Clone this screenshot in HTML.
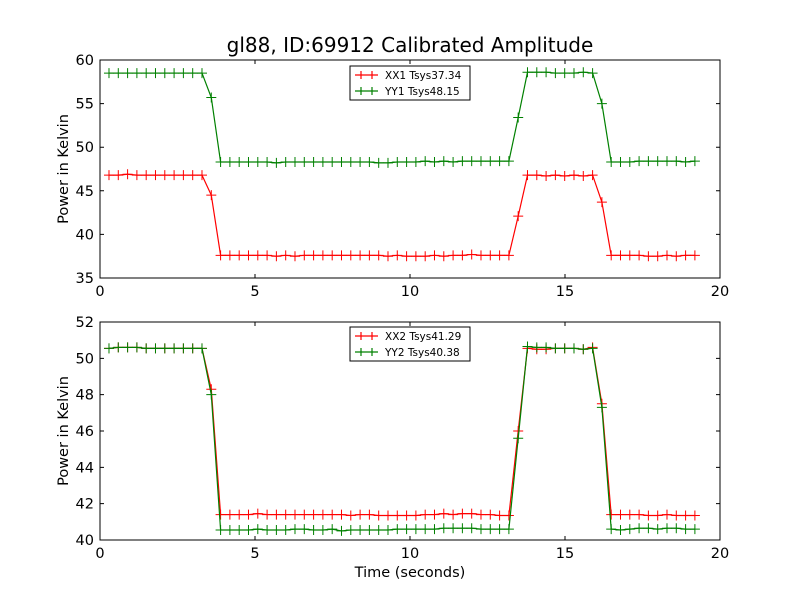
<!DOCTYPE html>
<html><head><meta charset="utf-8"><style>
body{margin:0;background:#fff}
svg{display:block;font-family:"DejaVu Sans","Liberation Sans",sans-serif}
</style></head><body>
<svg id="c" width="800" height="600" viewBox="0 0 800 600">
<rect width="800" height="600" fill="#fff"/>
<text x="410" y="52" font-size="20" text-anchor="middle">gl88, ID:69912 Calibrated Amplitude</text>
<text x="410" y="577" font-size="14.5" text-anchor="middle">Time (seconds)</text>
</svg>
<script>
const times = [];
for (let i = 0; i < 64; i++) times.push(+(0.29 + 0.3 * i).toFixed(2));
const xx1 = [46.8,46.8,46.9,46.8,46.8,46.8,46.8,46.8,46.8,46.8,46.8,44.5,
 37.6,37.6,37.6,37.6,37.6,37.6,37.5,37.6,37.5,37.6,37.6,37.6,37.6,37.6,37.6,37.6,37.6,37.6,37.5,37.6,37.5,37.5,37.5,37.6,37.5,37.6,37.6,37.7,37.6,37.6,37.6,37.6,
 42.1,46.8,46.8,46.7,46.8,46.7,46.8,46.7,46.8,43.7,
 37.6,37.6,37.6,37.6,37.5,37.5,37.6,37.5,37.6,37.6];
const yy1 = [58.5,58.5,58.5,58.5,58.5,58.5,58.5,58.5,58.5,58.5,58.5,55.7,
 48.3,48.3,48.3,48.3,48.3,48.3,48.2,48.3,48.3,48.3,48.3,48.3,48.3,48.3,48.3,48.3,48.3,48.2,48.2,48.3,48.3,48.3,48.4,48.3,48.4,48.3,48.4,48.4,48.4,48.4,48.4,48.4,
 53.4,58.6,58.6,58.6,58.5,58.5,58.5,58.6,58.5,55.0,
 48.3,48.3,48.3,48.4,48.4,48.4,48.4,48.4,48.3,48.4];
const xx2 = [50.55,50.6,50.6,50.6,50.55,50.55,50.55,50.55,50.55,50.55,50.55,48.3,
 41.4,41.4,41.4,41.4,41.45,41.4,41.4,41.4,41.4,41.4,41.4,41.4,41.4,41.4,41.35,41.4,41.4,41.35,41.35,41.35,41.35,41.35,41.4,41.4,41.45,41.4,41.45,41.45,41.4,41.4,41.35,41.35,
 46.0,50.55,50.5,50.5,50.55,50.55,50.55,50.5,50.6,47.5,
 41.4,41.4,41.4,41.4,41.35,41.35,41.4,41.35,41.35,41.35];
const yy2 = [50.55,50.6,50.6,50.6,50.55,50.55,50.55,50.55,50.55,50.55,50.55,48.0,
 40.55,40.55,40.55,40.55,40.6,40.55,40.55,40.55,40.6,40.6,40.55,40.55,40.6,40.5,40.55,40.55,40.55,40.55,40.55,40.6,40.6,40.6,40.6,40.6,40.65,40.65,40.65,40.65,40.6,40.6,40.6,40.6,
 45.6,50.65,50.6,50.6,50.55,50.55,50.55,50.5,50.55,47.3,
 40.6,40.55,40.6,40.65,40.65,40.6,40.65,40.65,40.6,40.6];
const xTicks = [0,5,10,15,20];
const yTicksTop = [35,40,45,50,55,60];
const yTicksBot = [40,42,44,46,48,50,52];
const legendTop = ["XX1 Tsys37.34","YY1 Tsys48.15"];
const legendBot = ["XX2 Tsys41.29","YY2 Tsys40.38"];

const NS = "http://www.w3.org/2000/svg";
const svg = document.getElementById('c');
function mk(tag, attrs, parent){const e=document.createElementNS(NS,tag);for(const k in attrs)e.setAttribute(k,attrs[k]);(parent||svg).appendChild(e);return e;}

function panel(top, bot, ymin, ymax, yTicks, s1, s2, leg, legY, name){
  const L=100,R=720;
  const g = mk('g',{});
  
  
  const xs = v => L + (v-0)/(20-0)*(R-L);
  const ys = v => bot - (v-ymin)/(ymax-ymin)*(bot-top);
  const series = [[s1,'#ff0000','red'],[s2,'#008000','green']];
  series.forEach(([d,col,cn],si)=>{
    const pts = d.map((v,i)=>xs(times[i]).toFixed(2)+','+ys(v).toFixed(2)).join(' ');
    const pl = mk('polyline',{points:pts,fill:'none',stroke:col,'stroke-width':1.2},g);
    
    
    d.forEach((v,i)=>{
      const x=xs(times[i]), y=ys(v);
      const m = mk('path',{d:`M${x-5},${y}H${x+5}M${x},${y-5}V${y+5}`,stroke:col,'stroke-width':1},g);
      
      
    });
  });
  const fr = mk('rect',{x:L,y:top,width:R-L,height:bot-top,fill:'none',stroke:'#000','stroke-width':1},g);
  
  
  xTicks.forEach(t=>{
    const x=xs(t);
    mk('path',{d:`M${x},${bot}v-4M${x},${top}v4`,stroke:'#000'},g);
    const tx = mk('text',{x:x,y:bot+18,'font-size':14.5,'text-anchor':'middle'},g);
    tx.textContent=t;
    
    
  });
  yTicks.forEach(t=>{
    const y=ys(t);
    mk('path',{d:`M${L},${y}h4M${R},${y}h-4`,stroke:'#000'},g);
    const tx = mk('text',{x:L-6,y:y+5,'font-size':14.5,'text-anchor':'end'},g);
    tx.textContent=t;
    
    
  });
  const yl = mk('text',{x:0,y:0,'font-size':14.5,'text-anchor':'middle',transform:`translate(68,${(top+bot)/2}) rotate(-90)`},g);
  yl.textContent='Power in Kelvin';
  
  
  const lg = mk('g',{},g);
  
  
  mk('rect',{x:350,y:legY,width:120,height:34,fill:'#fff',stroke:'#000','stroke-width':1},lg);
  leg.forEach((s,i)=>{
    const y=legY+9+i*16, col=series[i][1];
    const e = mk('g',{},lg);
    
    
    mk('path',{d:`M355,${y}H378M361,${y-4}V${y+4}M372,${y-4}V${y+4}`,stroke:col,'stroke-width':1.2},e);
    const tx = mk('text',{x:385,y:y+4,'font-size':10.5},e);
    tx.textContent=s;
  });
}
panel(60,278,35,60,yTicksTop,xx1,yy1,legendTop,66,'top-panel');
panel(322,540,40,52,yTicksBot,xx2,yy2,legendBot,327,'bottom-panel');
</script>
</body></html>
